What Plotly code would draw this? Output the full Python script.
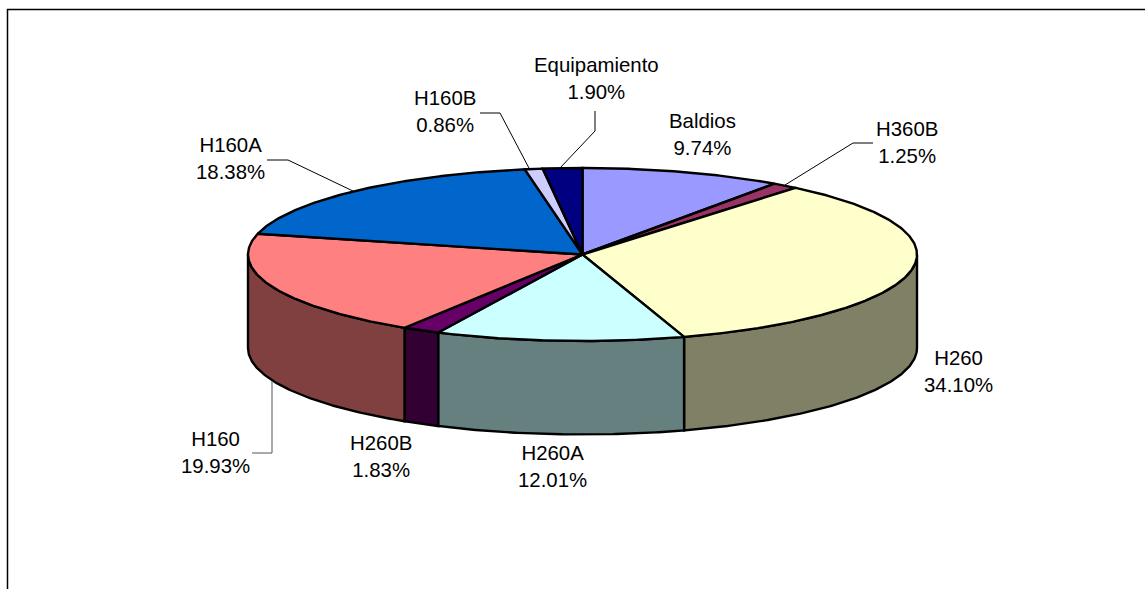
import numpy as np
import plotly.graph_objects as go

# ---- data (clockwise from 12 o'clock) ----
categories = ["Baldios", "H360B", "H260", "H260A", "H260B", "H160", "H160A", "H160B", "Equipamiento"]
shares = [9.74, 1.25, 34.10, 12.01, 1.83, 19.93, 18.38, 0.86, 1.90]
colors = ["#9999FF", "#993366", "#FFFFCC", "#CCFFFF", "#660066", "#FF8080", "#0066CC", "#CCCCFF", "#000080"]
side_colors = ["#4C4C80", "#4C1933", "#808066", "#668080", "#330033", "#804040", "#003366", "#666680", "#000040"]

# ---- geometry ----
CX, CY, RX, RY, DEPTH = 582.5, 254.5, 334.5, 86.5, 93.5
label_pos = {
    "Baldios": (702, 134), "H360B": (907, 142), "H260": (958, 371),
    "H260A": (552, 466), "H260B": (381, 456), "H160": (215, 452),
    "H160A": (230, 158), "H160B": (445, 111), "Equipamiento": (596, 78),
}
leaders = [
    ([267, 288, 355], [160, 160, 192], "#000000"),
    ([480, 500, 530], [113, 113, 170], "#000000"),
    ([595, 595, 560], [111, 131, 168], "#000000"),
    ([873, 853, 785], [143, 143, 185], "#000000"),
    ([252, 272, 272], [453, 453, 381], "#555555"),
]


def rim(a0, a1, dy=0.0):
    t = np.radians(np.linspace(a0, a1, max(2, int(abs(a1 - a0) * 2) + 2)))
    return CX + RX * np.sin(t), CY - RY * np.cos(t) + dy


fig = go.Figure()


def poly(x, y, fill):
    fig.add_trace(go.Scatter(x=x, y=y, mode="lines", fill="toself", fillcolor=fill,
                             line=dict(color="#000000", width=2.4), hoverinfo="skip", showlegend=False))


edges = 3.6 * np.concatenate([[0], np.cumsum(shares)])

# front wall: only the part of the rim between 90 and 270 degrees is visible
for i in range(len(shares)):
    a0, a1 = max(edges[i], 90), min(edges[i + 1], 270)
    if a1 > a0:
        xt, yt = rim(a0, a1)
        xb, yb = rim(a1, a0, DEPTH)
        poly(np.r_[xt, xb, xt[0]], np.r_[yt, yb, yt[0]], side_colors[i])

# top face
for i in range(len(shares)):
    xt, yt = rim(edges[i], edges[i + 1])
    poly(np.r_[CX, xt, CX], np.r_[CY, yt, CY], colors[i])

# leader lines
for lx, ly, c in leaders:
    fig.add_trace(go.Scatter(x=lx, y=ly, mode="lines", line=dict(color=c, width=1),
                             hoverinfo="skip", showlegend=False))

# outer frame, cut by the window on the right and at the bottom
fig.add_trace(go.Scatter(x=[7.5, 7.5, 1145], y=[589, 9.5, 9.5], mode="lines",
                         line=dict(color="#000000", width=1.5), hoverinfo="skip", showlegend=False))

for name, share in zip(categories, shares):
    lx, ly = label_pos[name]
    fig.add_annotation(x=lx, y=ly, text=f"{name}<br>{share:.2f}%", showarrow=False,
                       xanchor="center", yanchor="middle", align="center",
                       font=dict(family="Liberation Sans", size=20.4, color="#000000"))

fig.update_layout(
    width=1145, height=589, margin=dict(l=0, r=0, t=0, b=0),
    paper_bgcolor="#FFFFFF", plot_bgcolor="#FFFFFF", showlegend=False,
    xaxis=dict(range=[0, 1145], visible=False, fixedrange=True),
    yaxis=dict(range=[589, 0], visible=False, fixedrange=True),
)
fig.write_html("out.html", include_plotlyjs=True, config={"displayModeBar": False},
               post_script="document.body.style.margin='0';document.body.style.overflow='hidden';")
